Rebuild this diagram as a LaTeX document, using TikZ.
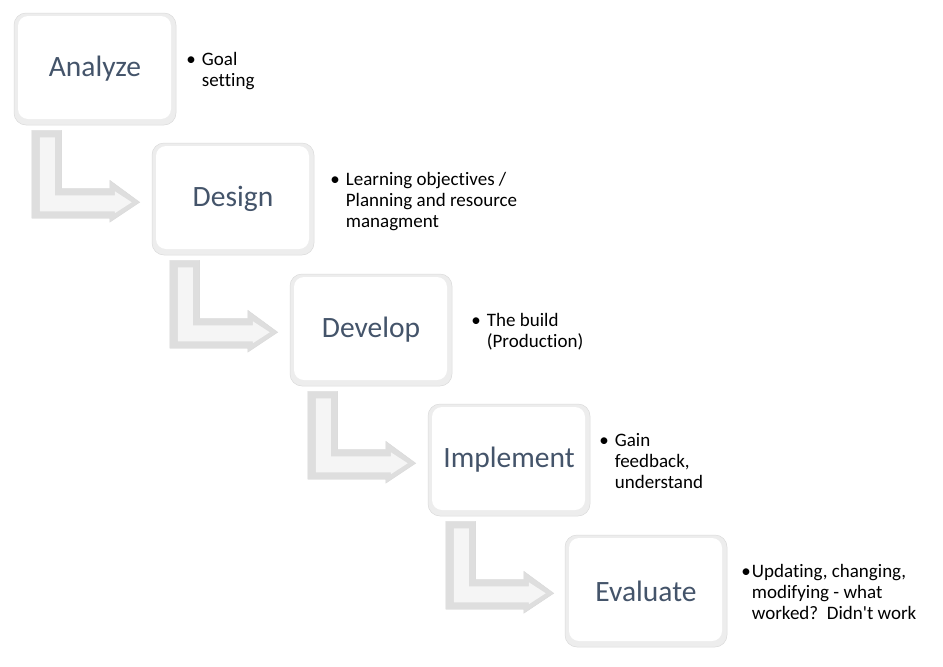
\documentclass[tikz,border=0pt]{standalone}
\usepackage{fontspec}
\setmainfont{Carlito}[Ligatures=NoCommon]
\usetikzlibrary{calc}

\definecolor{phasetext}{HTML}{44546A}

\tikzset{
    phase/.style={
        minimum width=162pt, minimum height=112pt, inner sep=0pt,
        rounded corners=12pt, draw=gray!28, line width=0.5pt, fill=gray!14,
        font=\fontsize{29.5}{32}\selectfont, text=phasetext,
        path picture={
            \fill[white, rounded corners=10pt]
                ([shift={(4pt,6pt)}]path picture bounding box.south west)
                rectangle ([shift={(-5pt,-3pt)}]path picture bounding box.north east);
        }
    },
    note/.style={anchor=west, inner sep=0pt, align=left,
        font=\fontsize{19}{21}\selectfont},
    bentarrow/.style={fill=gray!26, draw=gray!30, line width=0.4pt},
    bentface/.style={fill=gray!8},
}

\begin{document}
\begin{tikzpicture}[x=1pt, y=-1pt]
    \useasboundingbox (0,0) rectangle (943,667);

    % the five phases, stepping down to the right
    \coordinate (analyze-pos) at (95,69);
    \node[phase] (analyze) at (analyze-pos) {Analyze};
    \node[phase] (design) at ($(analyze-pos)+(138,130)$) {Design};
    \node[phase] (develop) at ($(analyze-pos)+(276,261)$) {Develop};
    \node[phase] (implement) at ($(analyze-pos)+(414,391)$) {Implement};
    \node[phase] (evaluate) at ($(analyze-pos)+(551,522)$) {Evaluate};

    % bent arrows under each phase
    \foreach \from in {analyze,design,develop,implement} {
        \coordinate (\from-sw) at (\from.south west);
        \draw[bentarrow] ($(\from-sw)+(18,5)$) -- ($(\from-sw)+(48,5)$)
            -- ($(\from-sw)+(48,63)$) -- ($(\from-sw)+(96,63)$)
            -- ($(\from-sw)+(96,55)$) -- ($(\from-sw)+(126,77)$)
            -- ($(\from-sw)+(96,97)$) -- ($(\from-sw)+(96,93)$)
            -- ($(\from-sw)+(18,93)$) -- cycle;
        \fill[bentface] ($(\from-sw)+(26,12)$) -- ($(\from-sw)+(41,12)$)
            -- ($(\from-sw)+(41,70)$) -- ($(\from-sw)+(101,70)$)
            -- ($(\from-sw)+(101,66)$) -- ($(\from-sw)+(118,77)$)
            -- ($(\from-sw)+(101,88)$) -- ($(\from-sw)+(101,86)$)
            -- ($(\from-sw)+(26,86)$) -- cycle;
    }

    % notes beside the phases
    \node[note] (analyze-note) at ($(analyze.east)+(10,3)$)
        {\begin{tabular}{@{}l@{\hspace{6pt}}l@{}}• & Goal\\ & setting\end{tabular}};
    \node[note] (design-note) at ($(design.east)+(16,3)$)
        {\begin{tabular}{@{}l@{\hspace{6pt}}l@{}}• & Learning objectives /\\ & Planning and resource\\ & managment\end{tabular}};
    \node[note] (develop-note) at ($(develop.east)+(19,3)$)
        {\begin{tabular}{@{}l@{\hspace{6pt}}l@{}}• & The build\\ & (Production)\end{tabular}};
    \node[note] (implement-note) at ($(implement.east)+(9,3)$)
        {\begin{tabular}{@{}l@{\hspace{6pt}}l@{}}• & Gain\\ & feedback,\\ & understand\end{tabular}};
    \node[note] (evaluate-note) at ($(evaluate.east)+(14,3)$)
        {\begin{tabular}{@{}l@{\hspace{1pt}}l@{}}• & Updating, changing,\\ & modifying - what\\ & worked?\ \ Didn\textquotesingle t work\end{tabular}};
\end{tikzpicture}
\end{document}
